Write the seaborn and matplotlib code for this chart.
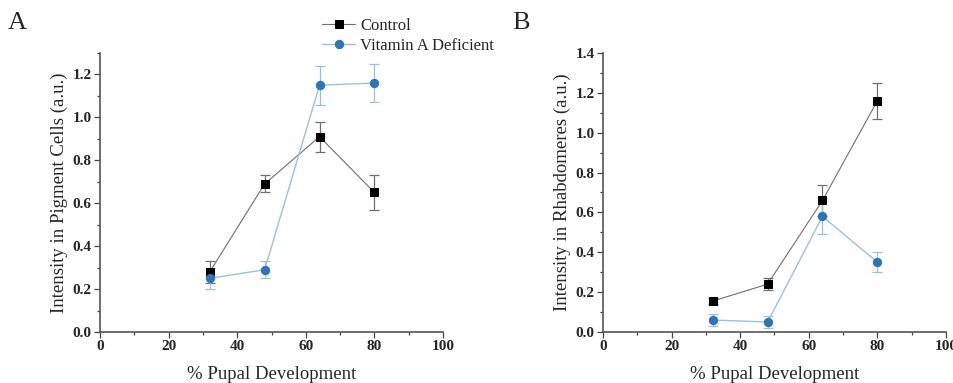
import pandas as pd
import numpy as np
import matplotlib.pyplot as plt
import seaborn as sns
from matplotlib.ticker import MultipleLocator

# Datos
pupal = [32, 48, 64, 80]

# Panel A - celulas pigmentarias
pig_control = [0.28, 0.69, 0.91, 0.65]
pig_control_err = [0.05, 0.04, 0.07, 0.08]
pig_vad = [0.25, 0.29, 1.15, 1.16]
pig_vad_err = [0.05, 0.04, 0.09, 0.09]

# Panel B - rabdomeros
rhab_control = [0.155, 0.24, 0.66, 1.16]
rhab_control_err = [0.015, 0.03, 0.08, 0.09]
rhab_vad = [0.06, 0.05, 0.58, 0.35]
rhab_vad_err = [0.03, 0.03, 0.09, 0.05]

sns.set_style("ticks")
plt.rcParams['font.family'] = ['Liberation Serif', 'DejaVu Serif']

fig = plt.figure(figsize=(9.54, 3.83), dpi=100)
axA = fig.add_axes([0.1048, 0.1332, 0.3596, 0.7284])
axB = fig.add_axes([0.632, 0.1332, 0.3596, 0.7284])

dark_blue = '#2f75b5'
light_blue = '#9cc0e3'
gray = '#707070'


def draw_panel(ax, ctrl, ctrl_err, vad, vad_err, ylabel, ymax):
    df = pd.DataFrame({
        'pupal': pupal * 2,
        'valor': ctrl + vad,
        'err': ctrl_err + vad_err,
        'grupo': ['Control'] * 4 + ['Vitamin A Deficient'] * 4,
    })
    c = df[df.grupo == 'Control']
    v = df[df.grupo == 'Vitamin A Deficient']
    ax.errorbar(c.pupal, c.valor, yerr=c.err, fmt='none', ecolor=gray,
                elinewidth=0.9, capsize=3.5, capthick=0.9, zorder=2)
    ax.errorbar(v.pupal, v.valor, yerr=v.err, fmt='none', ecolor=light_blue,
                elinewidth=0.9, capsize=3.5, capthick=0.9, zorder=2)
    sns.lineplot(data=c, x='pupal', y='valor', ax=ax, color=gray, lw=0.8,
                 marker='s', markersize=5.5, markerfacecolor='black',
                 markeredgecolor='black', label='Control', zorder=3)
    sns.lineplot(data=v, x='pupal', y='valor', ax=ax, color=light_blue, lw=1.0,
                 marker='o', markersize=6, markerfacecolor=dark_blue,
                 markeredgecolor=dark_blue, label='Vitamin A Deficient', zorder=4)
    ax.set_xlim(0, 100)
    ax.set_ylim(0, ymax)
    ax.xaxis.set_major_locator(MultipleLocator(20))
    ax.xaxis.set_minor_locator(MultipleLocator(10))
    ax.yaxis.set_major_locator(MultipleLocator(0.2))
    ax.yaxis.set_minor_locator(MultipleLocator(0.1))
    ax.yaxis.set_major_formatter(plt.FormatStrFormatter('%.1f'))
    ax.tick_params(which='major', length=4, width=0.9, color='#444444',
                   labelsize=11, pad=2)
    ax.tick_params(which='minor', length=2.5, width=0.9, color='#444444')
    for lab in ax.get_xticklabels() + ax.get_yticklabels():
        lab.set_fontweight('bold')
    for s in ['left', 'bottom']:
        ax.spines[s].set_color('#555555')
        ax.spines[s].set_linewidth(1.2)
    sns.despine(ax=ax)
    ax.set_xlabel('% Pupal Development', fontsize=13.5, labelpad=9)
    ax.set_ylabel(ylabel, fontsize=13.5, labelpad=3)
    ax.get_legend().remove()


draw_panel(axA, pig_control, pig_control_err, pig_vad, pig_vad_err,
           'Intensity in Pigment Cells (a.u.)', 1.3)
draw_panel(axB, rhab_control, rhab_control_err, rhab_vad, rhab_vad_err,
           'Intensity in Rhabdomeres (a.u.)', 1.4)

handles, labels = axA.get_legend_handles_labels()
fig.legend(handles, labels, loc='upper left', bbox_to_anchor=(0.327, 0.98),
           frameon=False, fontsize=12, handlelength=2.0, handletextpad=0.3,
           labelspacing=0.25, borderaxespad=0.2)

fig.text(0.008, 0.925, 'A', fontsize=19)
fig.text(0.537, 0.925, 'B', fontsize=19)

plt.savefig('out.png', dpi=100)
